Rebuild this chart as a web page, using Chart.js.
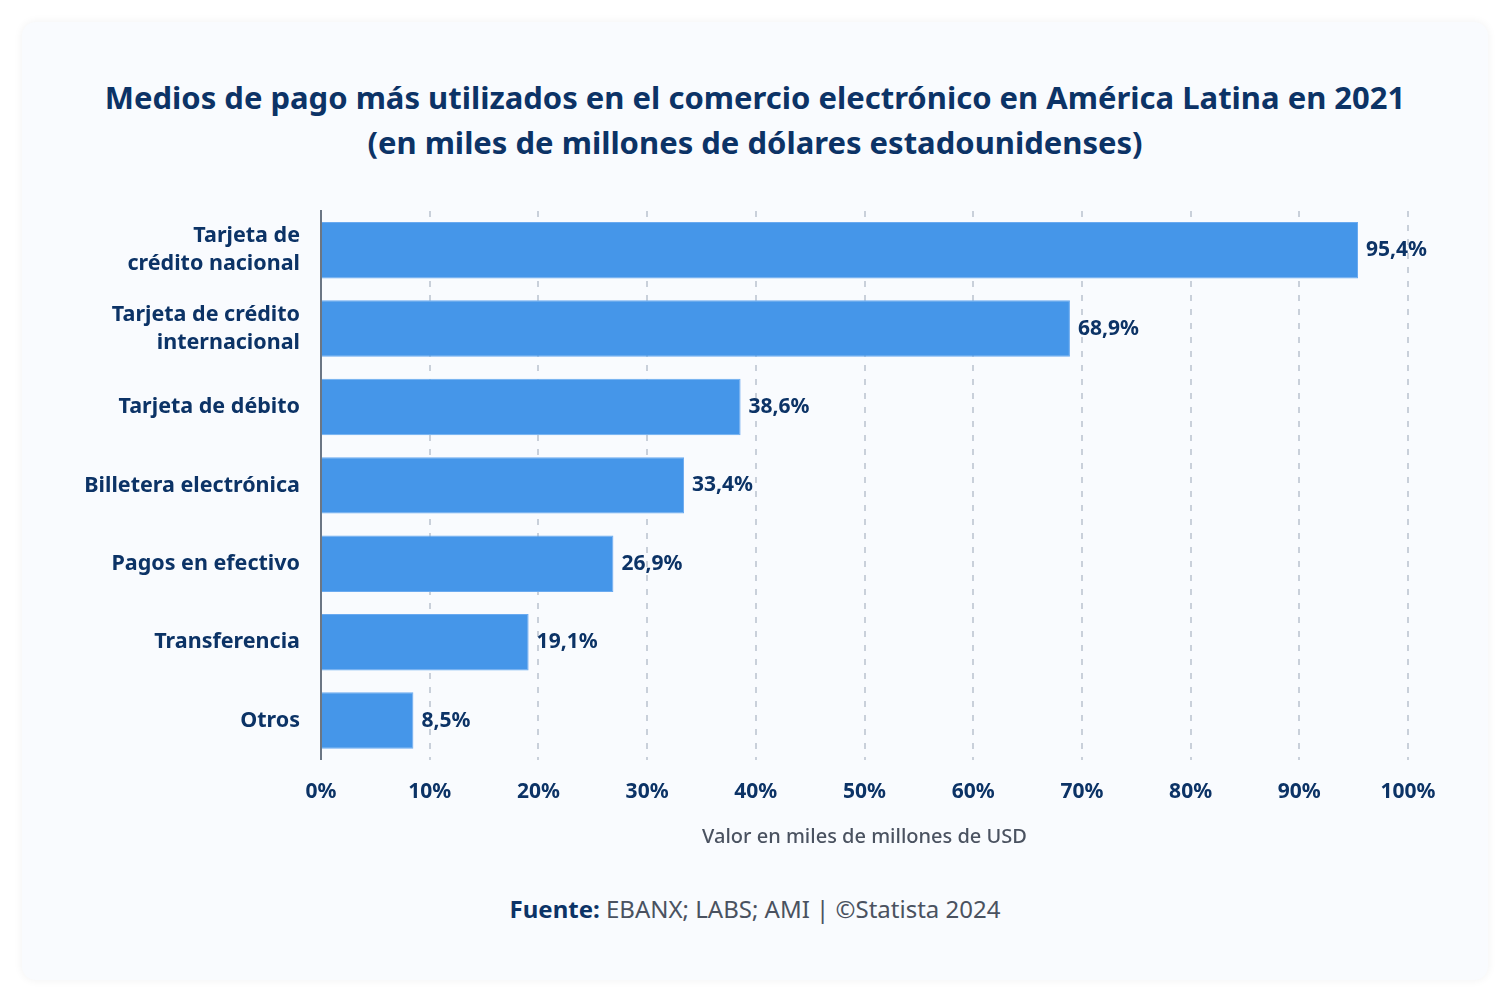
<!DOCTYPE html>
<html lang="es">
<head>
<meta charset="utf-8">
<title>Medios de pago en América Latina 2021</title>
<script src="https://cdn.jsdelivr.net/npm/chart.js@4.4.1/dist/chart.umd.min.js"></script>
<style>
  html, body { margin: 0; padding: 0; background: #ffffff; }
  body { width: 1509px; height: 1001px; position: relative; font-family: "Noto Sans", sans-serif; }
  .card {
    position: absolute; left: 22px; top: 22px; width: 1466px; height: 958px;
    background: #f9fbfe; border-radius: 14px;
    box-shadow: 0 0 10px rgba(0, 0, 0, 0.06);
  }
  .title {
    position: absolute; left: 0; top: 53px; width: 1466px; text-align: center;
    color: #0c3366; font-weight: 700; font-size: 31px; line-height: 45px;
  }
  .source {
    position: absolute; left: 0; top: 870px; width: 1466px; text-align: center;
    color: #4a5260; font-size: 24px;
  }
  .source b { color: #0c3366; }
  .chart-box { position: absolute; left: 0; top: 162px; width: 1466px; height: 665px; }
</style>
</head>
<body>
<div class="card">
  <div class="title">Medios de pago más utilizados en el comercio electrónico en América Latina en 2021<br>(en miles de millones de dólares estadounidenses)</div>
  <div class="chart-box"><canvas id="chart"></canvas></div>
  <div class="source"><b>Fuente:</b> EBANX; LABS; AMI | ©Statista 2024</div>
</div>
<script>
// chart data
const categories = [
  ['Tarjeta de', 'crédito nacional'],
  ['Tarjeta de crédito', 'internacional'],
  'Tarjeta de débito',
  'Billetera electrónica',
  'Pagos en efectivo',
  'Transferencia',
  'Otros'
];
const shares = [95.4, 68.9, 38.6, 33.4, 26.9, 19.1, 8.5];
const tickValues = [0, 10, 20, 30, 40, 50, 60, 70, 80, 90, 100];

const navy = '#0c3366';
const fontFamily = '"Noto Sans", sans-serif';

// writes "95,4%" after each bar
const barValueLabels = {
  id: 'barValueLabels',
  afterDatasetsDraw(chart) {
    const ctx = chart.ctx;
    const meta = chart.getDatasetMeta(0);
    ctx.save();
    ctx.font = `700 21px ${fontFamily}`;
    ctx.fillStyle = navy;
    ctx.textAlign = 'left';
    ctx.textBaseline = 'middle';
    meta.data.forEach((bar, i) => {
      const txt = shares[i].toFixed(1).replace('.', ',') + '%';
      ctx.fillText(txt, bar.x + 8, bar.y);
    });
    ctx.restore();
  }
};

new Chart(document.getElementById('chart').getContext('2d'), {
  type: 'bar',
  data: {
    labels: categories,
    datasets: [{
      data: shares,
      backgroundColor: '#4596e9',
      borderColor: '#6aaaf0',
      borderWidth: 1,
      barPercentage: 0.72,
      categoryPercentage: 1
    }]
  },
  options: {
    indexAxis: 'y',
    responsive: true,
    maintainAspectRatio: false,
    animation: false,
    layout: { padding: { top: 0, right: 80, bottom: 0, left: 0 } },
    plugins: {
      legend: { display: false },
      tooltip: { enabled: false }
    },
    scales: {
      x: {
        min: 0,
        max: 100,
        afterBuildTicks(scale) {
          scale.ticks = tickValues.map((v) => ({ value: v }));
        },
        border: { display: false, dash: [6, 8] },
        grid: {
          drawTicks: false,
          color: (c) => (c.tick && c.tick.value === 0 ? 'rgba(0,0,0,0)' : '#c9d0da'),
          lineWidth: 2
        },
        ticks: {
          padding: 20,
          color: navy,
          font: { family: fontFamily, size: 21, weight: '700' },
          callback: (v) => v + '%'
        },
        title: {
          display: true,
          text: 'Valor en miles de millones de USD',
          color: '#4a5260',
          font: { family: fontFamily, size: 20, weight: '500' },
          padding: { top: 0, bottom: 0 }
        }
      },
      y: {
        border: { display: true, color: '#6b7684', width: 2 },
        grid: { display: false },
        afterFit(scale) { scale.width = 299; },
        ticks: {
          padding: 13,
          color: navy,
          font: { family: fontFamily, size: 21.5, weight: '700', lineHeight: 1.3 }
        }
      }
    }
  },
  plugins: [barValueLabels]
});
</script>
</body>
</html>
